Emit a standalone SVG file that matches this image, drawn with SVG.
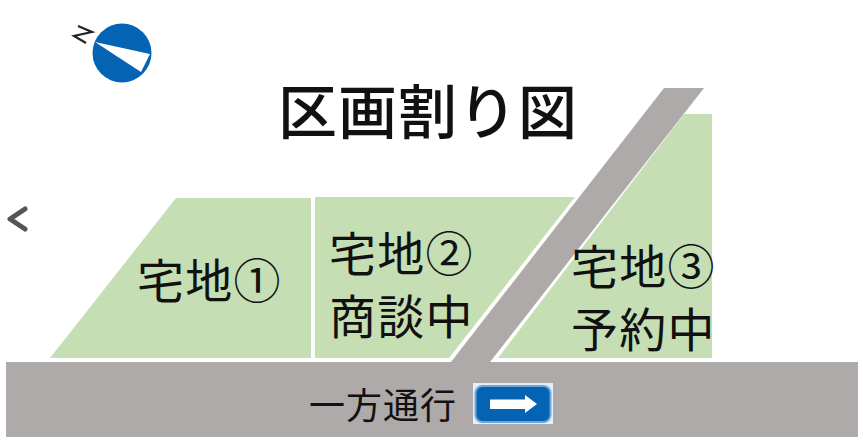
<svg xmlns="http://www.w3.org/2000/svg" width="863" height="445" viewBox="0 0 863 445">
<style>
text{font-family:"Noto Sans CJK JP","Noto Sans",sans-serif;fill:#111}
.lot{fill:#c5deb4}
.road{fill:#aeaaaa}
.l{font-size:47px;letter-spacing:1.2px}
</style>
<rect width="863" height="445" fill="#fff"/>
<g id="road-main"><rect class="road" x="6" y="362" width="852" height="75"/><path class="road" d="M664 88H704L490 362H451Z"/></g>
<g id="lot1"><path class="lot" d="M176 198H311V358H50Z"/><text class="l" x="137" y="298">宅地①</text></g>
<g id="lot2"><path class="lot" d="M315 197H575L449 358H315Z"/><text class="l" x="329" y="271">宅地②</text><text class="l" x="329" y="334">商談中</text></g>
<g id="lot3"><path class="lot" d="M684 114H712V358H498Z"/><text class="l" x="571" y="284">宅地③</text><text class="l" x="571" y="347">予約中</text></g>
<g id="title"><text x="278" y="134" font-size="59" font-weight="500" style="letter-spacing:1px">区画割り図</text></g>
<g id="compass"><circle cx="122" cy="53" r="29.5" fill="#0563b4"/><path d="M95 42L150 54L141 72Z" fill="#fff"/><path d="M78 26L92 32L74 36L86 43" fill="none" stroke="#222" stroke-width="2.2"/></g>
<g id="back"><path d="M25 209L10 219L25 229" fill="none" stroke="#555" stroke-width="5" stroke-linecap="round" stroke-linejoin="round"/></g>
<g id="one-way"><text x="309" y="419" font-size="36" style="letter-spacing:1px">一方通行</text><rect x="473" y="383" width="80" height="41" fill="#e6eef6"/><rect x="475.5" y="386" width="75" height="36" rx="7" fill="#0563b4" stroke="#6ea6d8" stroke-width="2"/><path d="M490 399.5H525V395L537 404L525 413V409H490Z" fill="#fff"/></g>
</svg>
